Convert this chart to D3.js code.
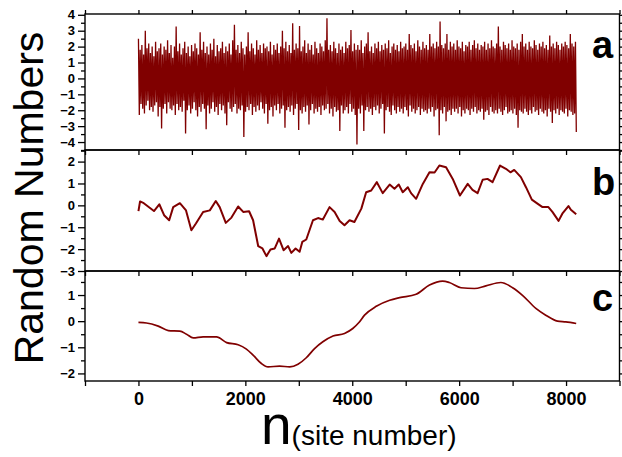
<!DOCTYPE html>
<html>
<head>
<meta charset="utf-8">
<script src="https://cdn.jsdelivr.net/npm/d3@7"></script>
<style>
  body { margin: 0; background: #fff; }
  svg { font-family: "Liberation Sans", Arial, sans-serif; }
  .ax path, .ax line { stroke: #000; stroke-width: 1.3; }
  .ax text { font-weight: bold; font-size: 13px; fill: #000; }
  .axb text { font-size: 18px; }
</style>
</head>
<body>
<svg id="chart" width="622" height="457"></svg>
<script>
// panel a : raw noise (8192 sites), highs and lows
var noiseA = [
  2.5,-2.3,1.8,-1.6,2.1,-1.9,1.5,-2.2,3.0,-1.7,1.9,-1.4,2.2,-2.0,1.6,-1.8,
  2.0,-2.1,1.4,-1.7,2.3,-1.5,1.7,-2.4,1.9,-1.8,2.2,-3.15,1.5,-1.9,2.0,-1.6,
  1.8,-2.2,2.4,-1.5,1.6,-1.9,2.1,-2.0,1.3,-1.7,2.0,-2.3,3.26,-1.6,1.7,-2.0,
  2.2,-1.8,1.5,-2.1,1.9,-1.4,2.3,-3.47,1.6,-2.0,2.0,-1.7,1.4,-2.2,2.1,-1.9,
  1.7,-1.5,2.2,-2.0,1.9,-2.4,1.5,-1.8,2.9,-2.1,1.8,-1.6,2.3,-1.9,1.6,-3.2,
  2.0,-1.7,1.5,-2.2,2.2,-1.9,1.8,-1.5,2.5,-2.1,1.4,-1.8,2.1,-2.3,1.7,-1.6,
  1.9,-2.0,2.3,-1.7,1.6,-2.2,2.0,-2.95,1.7,-1.5,2.2,-1.9,1.5,-2.1,2.4,-1.8,
  3.37,-1.6,1.8,-2.2,2.1,-1.9,1.6,-2.0,2.3,-1.7,1.9,-3.69,1.5,-2.1,2.0,-1.8,
  2.9,-2.0,1.7,-1.6,2.2,-2.3,1.9,-1.8,1.5,-2.1,2.4,-1.7,1.8,-2.0,2.1,-1.5,
  1.6,-1.9,2.2,-2.2,1.9,-1.6,2.0,-2.85,1.7,-2.0,2.3,-1.8,1.5,-2.4,2.1,-1.7,
  1.8,-2.0,2.2,-1.6,1.6,-2.2,2.0,-1.9,3.0,-1.7,1.9,-3.1,2.3,-2.0,1.7,-1.8,
  2.1,-2.1,1.6,-1.7,3.47,-2.3,1.8,-1.9,2.2,-1.6,1.9,-3.25,3.3,-2.0,1.7,-2.2,
  2.0,-1.8,2.4,-2.1,1.6,-1.7,2.2,-2.9,1.8,-2.0,2.1,-1.6,1.5,-2.2,2.3,-1.9,
  1.9,-2.1,1.6,-1.8,2.2,-2.3,2.0,-1.7,1.7,-2.0,2.4,-1.9,3.79,-1.6,1.8,-2.2,
  2.1,-1.9,1.7,-2.4,2.3,-1.8,1.9,-2.1,1.6,-2.0,2.2,-3.3,1.8,-1.7,2.0,-2.2,
  1.6,-2.0,2.3,-1.8,1.9,-2.2,2.1,-1.6,3.05,-2.1,1.7,-1.9,2.2,-2.3,1.8,-4.15,
  2.1,-1.9,1.8,-2.2,2.4,-1.7,1.6,-3.3,2.0,-2.0,2.2,-1.8,2.9,-2.1,1.7,-1.9,
  2.0,-2.3,1.6,-1.8,2.2,-2.0,1.9,-1.7,2.3,-2.2,1.7,-1.9,2.1,-1.6,1.8,-3.47,
  2.2,-2.0,1.9,-1.8,2.4,-2.1,1.6,-2.3,2.0,-1.7,2.2,-2.0,1.8,-2.2,2.1,-1.8,
  1.7,-2.1,2.3,-1.9,1.9,-2.2,2.0,-1.8,2.2,-2.0,1.8,-2.4,2.8,-1.7,2.1,-2.1,
  1.9,-1.9,2.2,-2.2,1.7,-2.0,2.4,-1.8,2.0,-2.3,1.8,-1.9,2.3,-2.1,1.9,-2.0,
  2.1,-2.2,1.8,-1.9,2.8,-2.1,2.0,-1.8,2.2,-2.4,1.9,-2.0,2.3,-1.9,2.0,-3.58,
  3.58,-2.0,2.1,-2.2,1.9,-1.8,2.2,-2.7,2.8,-2.1,1.8,-2.0,2.3,-2.3,2.0,-1.9,
  2.2,-2.1,1.8,-1.9,2.4,-2.2,2.0,-1.8,1.9,-2.4,2.3,-2.0,1.7,-2.2,2.1,-1.9,
  2.0,-2.0,2.3,-2.3,1.8,-1.9,2.1,-2.1,2.4,-1.8,1.9,-2.2,2.2,-2.0,1.8,-2.1,
  2.1,-1.9,2.0,-2.6,2.3,-2.1,1.8,-2.0,2.2,-2.3,1.9,-1.8,2.4,-2.1,2.0,-2.2,
  1.9,-2.0,2.2,-2.2,3.26,-1.9,2.0,-2.1,1.8,-2.3,2.3,-2.0,2.1,-1.8,1.9,-2.2,
  2.2,-2.1,1.8,-2.0,2.4,-2.2,2.0,-1.9,1.9,-2.3,2.2,-3.1,1.8,-2.0,2.3,-2.1,
  2.8,-2.2,2.0,-1.9,2.2,-2.1,1.8,-2.3,2.3,-2.0,2.0,-2.2,1.9,-1.8,2.4,-2.1,
  2.1,-2.0,1.8,-2.3,2.2,-1.9,2.0,-2.1,2.3,-2.2,1.9,-2.0,2.1,-2.4,1.8,-1.9,
  2.7,-2.1,2.0,-2.8,2.2,-2.0,1.9,-2.2,2.3,-1.9,2.1,-2.3,1.8,-2.0,2.2,-2.1,
  2.0,-2.2,2.3,-1.9,2.1,-2.4,1.9,-2.0,2.8,-2.1,2.2,-2.3,2.0,-2.2,2.3,-3.37
];
var lastSite = 8192;

// panel b : integrated walk
var siteB = [0,30,100,290,390,480,575,650,775,890,990,1075,1210,1335,1447,1520,1634,1740,1865,1960,
  2070,2145,2240,2320,2395,2470,2550,2630,2715,2800,2860,2940,3015,3065,3140,3265,3360,3450,3575,3670,
  3765,3855,3950,4040,4170,4260,4355,4460,4570,4700,4790,4870,4945,5040,5100,5195,5320,5445,5540,5630,
  5755,5880,6015,6160,6250,6345,6440,6530,6625,6765,6875,6960,7030,7155,7250,7360,7465,7560,7670,7745,
  7860,7930,8045,8090,8190];
var valB = [-0.26,0.18,0.1,-0.26,0.05,-0.45,-0.68,-0.08,0.1,-0.23,-1.14,-0.83,-0.3,-0.23,0.2,-0.08,-0.8,-0.56,-0.05,-0.3,
  -0.27,-0.68,-1.86,-1.97,-2.32,-2.02,-1.97,-1.52,-2.05,-1.86,-2.17,-1.97,-2.12,-1.67,-1.56,-0.68,-0.58,-0.65,-0.08,-0.3,
  -0.71,-0.91,-0.68,-0.76,-0.15,0.6,0.68,1.06,0.56,0.95,0.76,0.95,0.6,0.83,0.56,0.3,0.98,1.51,1.5,1.82,
  1.74,1.21,0.45,0.98,0.71,0.56,1.17,1.21,1.06,1.82,1.67,1.51,1.62,1.29,0.83,0.26,0.08,-0.08,-0.08,-0.3,
  -0.71,-0.38,-0.03,-0.2,-0.41];

// panel c : smoothed
var siteC = [0,150,370,560,775,900,1025,1210,1460,1650,1865,2020,2145,2300,2425,2640,2830,2985,3140,3295,
  3450,3640,3855,4010,4125,4230,4450,4700,4885,5195,5445,5690,5815,6035,6285,6500,6780,7000,7185,7435,
  7620,7840,7995,8190];
var valC = [-0.05,-0.07,-0.19,-0.36,-0.38,-0.5,-0.64,-0.6,-0.6,-0.82,-0.9,-1.07,-1.3,-1.62,-1.75,-1.72,-1.75,-1.65,-1.4,-1.05,
  -0.79,-0.57,-0.47,-0.28,-0.05,0.23,0.57,0.8,0.9,1.03,1.38,1.53,1.48,1.28,1.25,1.35,1.48,1.28,0.99,0.49,
  0.23,0,-0.03,-0.09];

var xTicks = [-1000,0,1000,2000,3000,4000,5000,6000,7000,8000,9000];
var xLabels = [0,2000,4000,6000,8000];
var panels = [
  {id:"a", top:14,  bottom:150, dom:[-4.5,4.05], major:[-4,-3,-2,-1,0,1,2,3,4], minor:[-4.5,-3.5,-2.5,-1.5,-0.5,0.5,1.5,2.5,3.5], lab:58},
  {id:"b", top:150, bottom:271, dom:[-3,2.53],   major:[-3,-2,-1,0,1,2], minor:[-2.5,-1.5,-0.5,0.5,1.5,2.5], lab:195},
  {id:"c", top:271, bottom:381, dom:[-2.29,1.92], major:[-2,-1,0,1], minor:[-1.5,-0.5,0.5,1.5], lab:311}
];
var col = "#800000";

var svg = d3.select("#chart");
var L = 85, R = 619.5;
var x = d3.scaleLinear().domain([-1000,9000]).range([L,R]);

var step = lastSite/(noiseA.length-1);
var seriesA = noiseA.map(function(v,i){ return [i*step, v]; });
var seriesB = siteB.map(function(s,i){ return [s, valB[i]]; });
var seriesC = siteC.map(function(s,i){ return [s, valC[i]]; });
var allSeries = [seriesA, seriesB, seriesC];

panels.forEach(function(p,k){
  var y = d3.scaleLinear().domain(p.dom).range([p.bottom,p.top]);
  var g = svg.append("g");

  // data line
  var line = d3.line().x(function(d){return x(d[0]);}).y(function(d){return y(d[1]);});
  if(k==2) line.curve(d3.curveMonotoneX);
  g.append("path").datum(allSeries[k])
    .attr("d", line).attr("fill","none").attr("stroke",col)
    .attr("stroke-width", k==0 ? 1.3 : (k==1 ? 2 : 1.7))
    .attr("stroke-linejoin", k==0 ? "miter" : "round")
    .attr("stroke-miterlimit", 2);

  // y axes
  g.append("g").attr("class","ax").attr("transform","translate("+L+",0)")
    .call(d3.axisLeft(y).tickValues(p.major).tickSize(7).tickPadding(3).tickFormat(d3.format("d")))
    .call(function(s){ s.select(".domain").remove(); });
  g.append("g").attr("class","ax").attr("transform","translate("+L+",0)")
    .call(d3.axisLeft(y).tickValues(p.minor).tickSize(4).tickFormat(""))
    .call(function(s){ s.select(".domain").remove(); });
  g.append("g").attr("class","ax").attr("transform","translate("+R+",0)")
    .call(d3.axisRight(y).tickValues(p.major).tickSize(6).tickFormat(""))
    .call(function(s){ s.select(".domain").remove(); });
  g.append("g").attr("class","ax").attr("transform","translate("+R+",0)")
    .call(d3.axisRight(y).tickValues(p.minor).tickSize(3).tickFormat(""))
    .call(function(s){ s.select(".domain").remove(); });

  // x ticks
  g.append("g").attr("class","ax axb").attr("transform","translate(0,"+p.bottom+")")
    .call(d3.axisBottom(x).tickValues(xTicks).tickSize(5).tickPadding(6)
      .tickFormat(function(d){ return xLabels.indexOf(d)>=0 ? d : ""; }))
    .call(function(s){
      s.select(".domain").remove();
      if(k!=2) s.selectAll("text").remove();
    });
  if(k==0){
    g.append("g").attr("class","ax").attr("transform","translate(0,"+p.top+")")
      .call(d3.axisTop(x).tickValues(xTicks).tickSize(4).tickFormat(""))
      .call(function(s){ s.select(".domain").remove(); });
  }

  // frame
  g.append("rect").attr("x",L).attr("y",p.top).attr("width",R-L).attr("height",p.bottom-p.top)
    .attr("fill","none").attr("stroke","#000").attr("stroke-width",1.4);

  g.append("text").attr("x",592).attr("y",p.lab).text(p.id)
    .attr("font-size","38px").attr("font-weight","bold");
});

svg.append("text").attr("transform","translate(43,198) rotate(-90)")
  .attr("text-anchor","middle").attr("font-size","41px").text("Random Numbers");

var xt = svg.append("text").attr("x",261).attr("y",444);
xt.append("tspan").attr("font-size","55px").text("n");
xt.append("tspan").attr("font-size","28px").attr("dy","1").text("(site number)");
</script>
</body>
</html>
